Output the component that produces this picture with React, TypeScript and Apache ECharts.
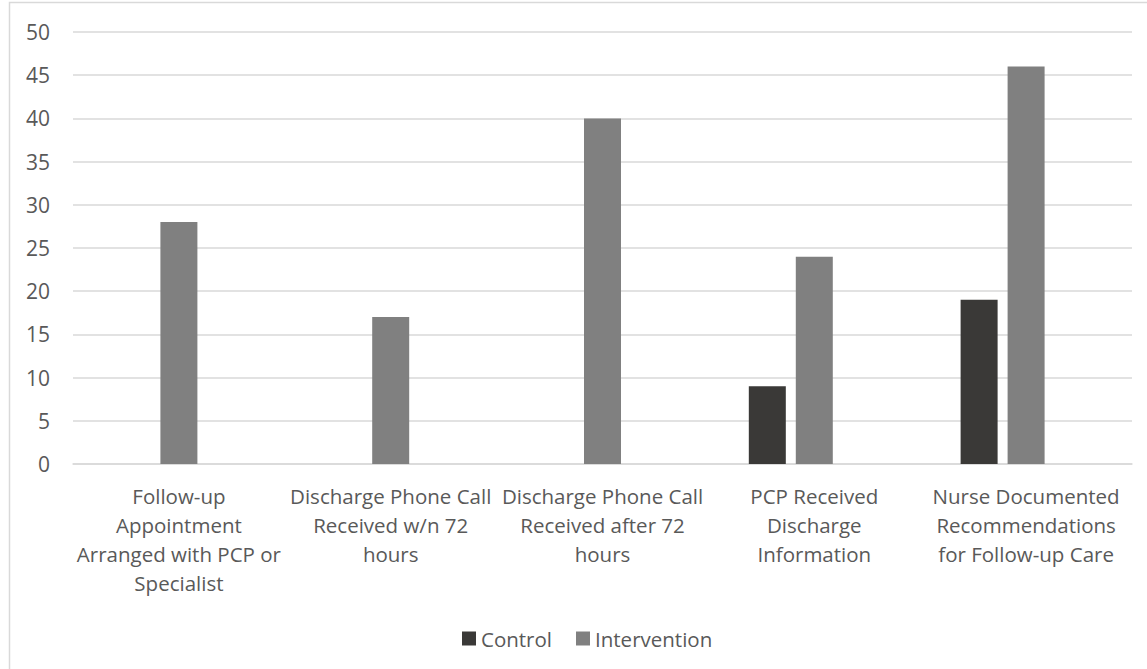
import React, { useEffect, useRef } from "react";
import * as echarts from "echarts";

const categories = [
  "Follow-up\nAppointment\nArranged with PCP or\nSpecialist",
  "Discharge Phone Call\nReceived w/n 72\nhours",
  "Discharge Phone Call\nReceived after 72\nhours",
  "PCP Received\nDischarge\nInformation",
  "Nurse Documented\nRecommendations\nfor Follow-up Care",
];
const controlValues = [0, 0, 0, 9, 19];
const interventionValues = [28, 17, 40, 24, 46];
// empty third slot in each cluster, keeps Intervention centred on the category
const reservedValues = [null, null, null, null, null];

const TEXT = "#595959";
const GRID = "#d9d9d9";
const FONT = "'Open Sans', sans-serif";

export default function App() {
  const ref = useRef<HTMLDivElement>(null);
  useEffect(() => {
    if (!ref.current) return;
    const chart = echarts.init(ref.current, undefined, { renderer: "svg" });
    chart.setOption({
      animation: false,
      backgroundColor: "#ffffff",
      textStyle: { fontFamily: FONT, color: TEXT },
      graphic: [
        {
          type: "rect",
          shape: { x: 9.5, y: 2.5, width: 1300, height: 900 },
          style: { fill: "none", stroke: GRID, lineWidth: 1.5 },
          silent: true,
          z: -1,
        },
      ],
      grid: { left: 73, right: 15, top: 32, bottom: 205, containLabel: false },
      legend: {
        data: ["Control", "Intervention"],
        left: 462,
        top: 628,
        itemWidth: 14,
        itemHeight: 14,
        itemGap: 24,
        icon: "rect",
        textStyle: { fontFamily: FONT, fontSize: 20.5, color: TEXT },
        padding: 0,
      },
      xAxis: {
        type: "category",
        data: categories,
        axisLine: { show: true, lineStyle: { color: GRID, width: 1.5 } },
        axisTick: { show: false },
        axisLabel: {
          interval: 0,
          fontFamily: FONT,
          fontSize: 20.5,
          color: TEXT,
          lineHeight: 29,
          margin: 17,
          align: "center",
        },
      },
      yAxis: {
        type: "value",
        min: 0,
        max: 50,
        interval: 5,
        axisLine: { show: false },
        axisTick: { show: false },
        splitLine: { lineStyle: { color: GRID, width: 1.5 } },
        axisLabel: { fontFamily: FONT, fontSize: 21, color: TEXT, margin: 23 },
      },
      series: [
        {
          name: "Control",
          type: "bar",
          data: controlValues,
          barWidth: 37,
          barGap: "27%",
          itemStyle: { color: "#3a3937" },
        },
        {
          name: "Intervention",
          type: "bar",
          data: interventionValues,
          barWidth: 37,
          barGap: "27%",
          itemStyle: { color: "#808080" },
        },
        {
          name: "Reserved",
          type: "bar",
          data: reservedValues,
          barWidth: 37,
          barGap: "27%",
          itemStyle: { color: "#b0b0b0" },
        },
      ],
    });
    return () => chart.dispose();
  }, []);
  return (
    <div
      ref={ref}
      style={{ position: "fixed", left: 0, top: 0, width: 1147, height: 669 }}
    />
  );
}
